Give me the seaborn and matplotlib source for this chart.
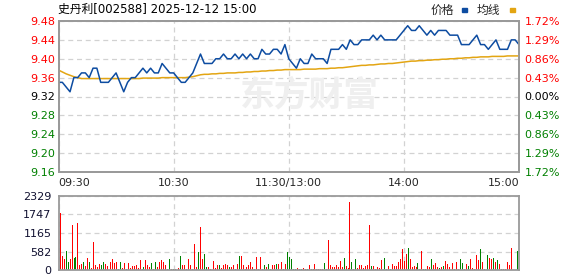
import numpy as np
import pandas as pd
import matplotlib
matplotlib.use("Agg")
import matplotlib.pyplot as plt
from matplotlib.patches import Rectangle
import seaborn as sns

# ---------------- data ----------------
title = "史丹利[002588] 2025-12-12 15:00"
legend_labels = ["价格", "均线"]
watermark = "东方财富"
prev_close = 9.32
price_ticks = [9.48, 9.44, 9.40, 9.36, 9.32, 9.28, 9.24, 9.20, 9.16]
pct_labels = ["1.72%", "1.29%", "0.86%", "0.43%", "0.00%", "0.43%", "0.86%", "1.29%", "1.72%"]
time_ticks = [0, 60, 120, 180, 240]
time_labels = ["09:30", "10:30", "11:30/13:00", "14:00", "15:00"]
vol_ticks = [0, 582, 1165, 1747, 2329]

# price, one value every 2 minutes (09:30 .. 15:00, lunch removed)
price = [9.35, 9.35, 9.34, 9.33, 9.36, 9.36, 9.37, 9.37, 9.36, 9.38,
         9.38, 9.35, 9.35, 9.35, 9.36, 9.37, 9.35, 9.33, 9.35, 9.36,
         9.36, 9.37, 9.38, 9.37, 9.38, 9.37, 9.37, 9.39, 9.38, 9.37,
         9.37, 9.36, 9.35, 9.35, 9.36, 9.37, 9.39, 9.41, 9.39, 9.39,
         9.39, 9.40, 9.40, 9.41, 9.40, 9.40, 9.41, 9.40, 9.41, 9.40,
         9.41, 9.40, 9.40, 9.42, 9.41, 9.41, 9.42, 9.42, 9.41, 9.43,
         9.40,
         9.39, 9.38, 9.40, 9.39, 9.39, 9.41, 9.40, 9.40, 9.40, 9.39,
         9.42, 9.42, 9.42, 9.43, 9.42, 9.44, 9.43, 9.43, 9.44, 9.44,
         9.44, 9.45, 9.44, 9.45, 9.44, 9.44, 9.44, 9.44, 9.45, 9.46,
         9.47, 9.46, 9.46, 9.47, 9.46, 9.45, 9.46, 9.45, 9.46, 9.46,
         9.46, 9.45, 9.45, 9.45, 9.43, 9.43, 9.43, 9.44, 9.45, 9.43,
         9.43, 9.42, 9.43, 9.44, 9.42, 9.42, 9.42, 9.44, 9.44, 9.43]

avg_price = [9.376, 9.372, 9.368, 9.365, 9.362, 9.360, 9.358, 9.358, 9.358, 9.358,
             9.358, 9.358, 9.358, 9.358, 9.358, 9.358, 9.358, 9.358, 9.358, 9.358,
             9.358, 9.358, 9.359, 9.359, 9.359, 9.359, 9.359, 9.360, 9.360, 9.360,
             9.360, 9.360, 9.360, 9.360, 9.361, 9.362, 9.364, 9.366, 9.367, 9.367,
             9.368, 9.368, 9.369, 9.369, 9.370, 9.370, 9.370, 9.371, 9.371, 9.372,
             9.372, 9.373, 9.373, 9.374, 9.374, 9.375, 9.375, 9.376, 9.376, 9.377,
             9.377,
             9.377, 9.377, 9.377, 9.378, 9.378, 9.378, 9.378, 9.379, 9.379, 9.379,
             9.380, 9.380, 9.381, 9.381, 9.382, 9.383, 9.384, 9.385, 9.386, 9.386,
             9.387, 9.387, 9.388, 9.389, 9.389, 9.390, 9.390, 9.391, 9.392, 9.393,
             9.394, 9.395, 9.395, 9.396, 9.396, 9.397, 9.397, 9.398, 9.398, 9.399,
             9.399, 9.400, 9.400, 9.401, 9.401, 9.402, 9.402, 9.403, 9.403, 9.404,
             9.404, 9.404, 9.405, 9.405, 9.405, 9.405, 9.406, 9.406, 9.406, 9.406]

vol_am = [1806, 441, 350, 600, 250, 350, 1430, 390, 410, 1490,
          170, 190, 260, 125, 380, 260, 60, 890, 150, 85,
          200, 170, 250, 190, 125, 40, 260, 350, 230, 260,
          30, 250, 50, 210, 40, 230, 70, 125, 125, 160,
          50, 315, 40, 105, 315, 150, 105, 230, 40, 250,
          80, 260, 315, 250, 160, 30, 350, 30, 30, 30,
          440, 60, 440, 160, 160, 40, 350, 160, 40, 820,
          105, 570, 1365, 350, 500, 105, 80, 40, 150, 285,
          60, 150, 150, 50, 150, 190, 150, 105, 80, 150,
          40, 190, 440, 440, 150, 40, 105, 150, 250, 105,
          40, 410, 40, 410, 40, 150, 105, 190, 40, 150,
          150, 190, 190, 150, 250, 40, 190, 570]
dir_am = ("rrrggrrggr" "rrgrrgrrrr" "rggrrrrrrr" "ggrrgrrrrr" "rrrgrrrgrg" "rrrrrggrgr"
          "grgrrrrrrr" "rgrrggrrrr" "rrgrrrrgrr" "grgrrrrrrr" "grrrrgrgrr" "rgrrrgrg")

vol_pm = [410, 350, 30, 30, 60, 30, 30, 60, 30, 30,
          160, 30, 30, 190, 30, 30, 30, 30, 220, 30,
          945, 160, 95, 95, 160, 95, 285, 95, 380, 125,
          60, 2140, 250, 30, 350, 60, 160, 160, 60, 125,
          160, 1420, 125, 125, 40, 95, 60, 315, 220, 380,
          30, 125, 30, 190, 125, 125, 250, 350, 660, 285,
          500, 690, 350, 95, 125, 95, 220, 30, 600, 30,
          30, 125, 95, 350, 160, 220, 95, 60, 95, 125,
          285, 190, 95, 220, 220, 30, 250, 30, 350, 220,
          30, 190, 125, 350, 60, 30, 470, 315, 660, 250,
          30, 755, 470, 380, 350, 380, 250, 315, 190, 30,
          30, 30, 250, 160, 690, 0, 0, 600]
dir_pm = ("ggggrrgrrg" "rrgrrrrrgr" "rrrrrrrrgr" "rrgrgrrrrr" "rrgrrrrrrg" "rrgrrrrrrr"
          "rgrrrrgrrg" "grrgrrrgrg" "rrrgrgrrgg" "rrgrrrrrgr" "grgrrgrgrg" "rrrrrrrg")

# ---------------- style ----------------
sns.set_style("white")
plt.rcParams['font.family'] = ['DejaVu Sans', 'Noto Sans CJK SC']

RED, GREEN, BLACK = '#FF0000', '#008000', '#000000'
BLUE, GOLD = '#0D4CA1', '#E3A512'
GRID, SPINE = '#d2d2d2', '#9a9a9a'
NUM = ['DejaVu Sans']
DIR_COLORS = {'r': RED, 'g': GREEN}

W, H = 578, 276
fig = plt.figure(figsize=(W / 100, H / 100), dpi=100)
def fx(px): return px / W
def fy(py): return 1 - py / H

L, R = 58.5, 519
ax = fig.add_axes([fx(L), fy(172), fx(R) - fx(L), fy(21) - fy(172)])
axv = fig.add_axes([fx(L), fy(270), fx(R) - fx(L), fy(196) - fy(270)])

# ---------------- price panel ----------------
minutes = np.arange(len(price)) * 240 / (len(price) - 1)
df = pd.DataFrame({'t': minutes, 'price': price, 'avg': avg_price})
sns.lineplot(data=df, x='t', y='avg', ax=ax, color=GOLD, lw=1.1, zorder=3)
sns.lineplot(data=df, x='t', y='price', ax=ax, color=BLUE, lw=1.1, zorder=4)

ax.set_xlim(0, 240)
ax.set_ylim(min(price_ticks), max(price_ticks))
ax.set_xlabel('')
ax.set_ylabel('')
ax.set_yticks(price_ticks)
ax.set_yticklabels([f"{v:.2f}" for v in price_ticks], family=NUM, fontsize=8)
def lvl_color(v):
    if abs(v - prev_close) < 1e-9:
        return BLACK
    return RED if v > prev_close else GREEN
for lab, v in zip(ax.get_yticklabels(), price_ticks):
    lab.set_color(lvl_color(v))
ax.set_xticks(time_ticks)
ax.set_xticklabels(time_labels, family=NUM, fontsize=8)
xl = ax.get_xticklabels()
xl[0].set_ha('left')
xl[-1].set_ha('right')
ax.tick_params(axis='y', length=0, pad=2.2)
ax.tick_params(axis='x', length=0, pad=4)
ax.grid(True, color=GRID, linestyle=(0, (4, 3)), lw=0.9)
ax.set_axisbelow(True)

ax2 = ax.twinx()
ax2.set_ylim(ax.get_ylim())
ax2.set_yticks(price_ticks)
ax2.set_yticklabels(pct_labels, family=NUM, fontsize=8)
for lab, v in zip(ax2.get_yticklabels(), price_ticks):
    lab.set_color(lvl_color(v))
ax2.tick_params(axis='y', length=0, pad=4)
ax2.grid(False)

for a in (ax, ax2, axv):
    for s in a.spines.values():
        s.set_color(SPINE)
        s.set_linewidth(1.3)
        s.set_visible(True)

# watermark
ax.text(fx(309), fy(95), watermark, transform=fig.transFigure, fontsize=25,
        fontweight='bold', color='#efefef', ha='center', va='center',
        family=['Noto Sans CJK SC'], zorder=0.6)

# ---------------- volume panel ----------------
vol = vol_am + vol_pm
dirs = list(dir_am + dir_pm)
n = len(vol)
pos = 1 + np.arange(n) * 238 / (n - 1)
dfv = pd.DataFrame({'pos': pos, 'vol': vol, 'dir': dirs})
sns.barplot(data=dfv, x='pos', y='vol', color=RED, native_scale=True, width=0.5,
            errorbar=None, ax=axv, linewidth=0)
for p, d in zip(axv.patches, dfv['dir']):
    p.set_facecolor(DIR_COLORS[d])
    p.set_antialiased(False)
axv.set_xlim(0, 240)
axv.set_ylim(0, max(vol_ticks))
axv.set_xlabel('')
axv.set_ylabel('')
axv.set_xticks(time_ticks)
axv.set_xticklabels([])
axv.set_yticks(vol_ticks)
axv.set_yticklabels([str(v) for v in vol_ticks], family=NUM, fontsize=8, color='#101030')
axv.tick_params(axis='both', length=0, pad=5)
axv.grid(True, color=GRID, linestyle=(0, (4, 3)), lw=0.9)
axv.set_axisbelow(True)

# ---------------- title & legend ----------------
fig.text(fx(58), fy(9), title, fontsize=8.5, color=BLACK, ha='left', va='center',
         family=['DejaVu Sans', 'Noto Sans CJK SC'])
fig.text(fx(431), fy(10), legend_labels[0], fontsize=8.5, ha='left', va='center',
         family=['Noto Sans CJK SC'])
fig.patches.append(Rectangle((fx(462), fy(11.5)), fx(5), 3 / H, transform=fig.transFigure,
                             color=BLUE, figure=fig))
fig.text(fx(477), fy(10), legend_labels[1], fontsize=8.5, ha='left', va='center',
         family=['Noto Sans CJK SC'])
fig.patches.append(Rectangle((fx(510), fy(11.5)), fx(5), 3 / H, transform=fig.transFigure,
                             color=GOLD, figure=fig))

fig.savefig('out.png', dpi=100)
